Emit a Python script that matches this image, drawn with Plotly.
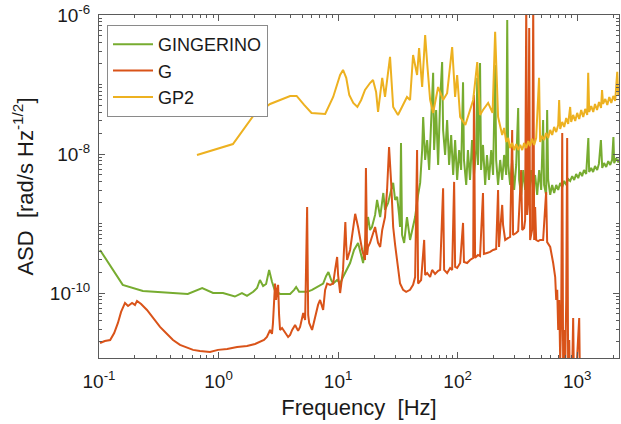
import plotly.graph_objects as go

# ---------------- data ----------------
gingerino_freq = [
    0.102, 0.158, 0.233, 0.553, 0.73, 0.90, 1.09, 1.37, 1.57, 1.73,
    1.95, 2.10, 2.22, 2.36, 2.50, 2.65, 2.80, 2.97, 3.27, 3.67,
    3.97, 4.29, 4.46, 4.72, 5.11, 5.51, 6.06, 6.67, 7.50, 7.95,
    8.3, 8.76, 9.10, 9.82, 10.4, 11.0, 11.7, 12.6, 13.6, 14.7,
    15.6, 16.2, 17.1, 17.8, 18.5, 19.2, 20.4, 21.2, 22.5, 23.9,
    24.7, 26.2, 27.8, 28.9, 30.0, 31.2, 32.4, 33.0, 33.6, 34.3,
    35.7, 37.7, 40.0, 42.4, 44.1, 46.7, 48.6, 50.5, 51.5, 53.5,
    55.6, 57.8, 60.1, 62.4, 63.6, 66.1, 68.7, 71.4, 74.2, 75.6,
    78.6, 81.7, 84.9, 88.3, 91.8, 95.3, 99.1, 103, 107, 111,
    113, 118, 122, 127, 132, 137, 143, 146, 148, 154,
    157, 163, 170, 176, 183, 191, 198, 206, 210, 218,
    227, 236, 245, 255, 260, 265, 275, 286, 297, 309,
    321, 327, 340, 354, 367, 382, 397, 412, 429, 445,
    463, 481, 500, 519, 529, 550, 561, 572, 595, 618,
    642, 668, 694, 721, 750, 779, 810, 841, 874, 909,
    944, 981, 1020, 1060, 1100, 1140, 1190, 1240, 1260, 1310,
    1360, 1410, 1470, 1520, 1580, 1620, 1680, 1750, 1820, 1890,
    1960, 2010, 2040, 2120, 2210, 2290,
]
gingerino_asd = [
    4.16e-10, 1.31e-10, 1.07e-10, 9.7e-11, 1.18e-10, 1.0e-10, 1.0e-10, 8.9e-11, 1.0e-10, 9.1e-11,
    1.04e-10, 1.18e-10, 1.54e-10, 1.26e-10, 1.35e-10, 2.15e-10, 1.45e-10, 1.07e-10, 9.7e-11, 9.7e-11,
    9.7e-11, 1.11e-10, 1.22e-10, 1.04e-10, 1.04e-10, 1.04e-10, 1.11e-10, 1.22e-10, 1.37e-10, 1.76e-10,
    2.0e-10, 1.54e-10, 1.37e-10, 1.54e-10, 1.37e-10, 1.7e-10, 2.15e-10, 2.7e-10, 4.16e-10, 5.25e-10,
    3.53e-10, 2.7e-10, 6.84e-10, 1.24e-9, 8.07e-10, 8.9e-10, 1.33e-9, 2.18e-9, 1.24e-9, 2.75e-9,
    1.57e-9, 1.97e-9, 3.04e-9, 3.84e-9, 2.18e-9, 2.42e-9, 1.33e-9, 8.9e-10, 1.44e-8, 6.84e-10,
    5.25e-10, 1.24e-9, 5.80e-10, 9.53e-10, 1.24e-9, 2.58e-9, 3.84e-9, 1.14e-8, 3.41e-8, 8.21e-9,
    1.59e-8, 5.89e-9, 2.62e-8, 1.47e-7, 1.14e-8, 4.30e-8, 6.96e-9, 5.99e-8, 2.1e-7, 2.22e-8,
    9.69e-9, 3.09e-8, 6.96e-9, 1.88e-8, 4.99e-9, 1.59e-8, 4.23e-9, 1.14e-8, 5.89e-9, 1.08e-7,
    8.21e-9, 3.59e-9, 1.14e-8, 4.23e-9, 1.59e-8, 4.99e-9, 1.14e-8, 1.25e-7, 6.96e-9, 2.04e-7,
    5.89e-9, 1.35e-8, 3.59e-9, 9.69e-9, 4.23e-9, 1.14e-8, 4.99e-9, 1.91e-7, 8.21e-9, 3.59e-9,
    8.21e-9, 4.23e-9, 9.69e-9, 4.99e-9, 8.47e-7, 6.96e-9, 3.59e-9, 8.21e-9, 3.04e-9, 6.96e-9,
    4.6e-8, 4.23e-9, 2.58e-9, 5.89e-9, 3.04e-9, 6.96e-9, 2.58e-9, 5.89e-9, 3.04e-9, 4.99e-9,
    2.58e-9, 5.89e-9, 3.04e-9, 3.09e-8, 3.59e-9, 2.58e-9, 4.30e-8, 4.23e-9, 2.58e-9, 3.59e-9,
    2.75e-9, 3.59e-9, 3.04e-9, 3.84e-9, 3.33e-9, 4.1e-9, 3.59e-9, 4.37e-9, 4.1e-9, 4.8e-9,
    4.23e-9, 5.15e-9, 4.5e-9, 5.5e-9, 4.8e-9, 5.89e-9, 5.15e-9, 1.70e-8, 5.5e-9, 6.3e-9,
    5.5e-9, 6.7e-9, 5.89e-9, 7.2e-9, 1.59e-8, 6.3e-9, 7.4e-9, 6.5e-9, 7.9e-9, 6.96e-9,
    8.21e-9, 1.76e-8, 7.4e-9, 8.7e-9, 7.6e-9, 8.9e-9,
]

g_freq = [
    0.102, 0.112, 0.124, 0.134, 0.144, 0.153, 0.165, 0.175, 0.189, 0.200,
    0.208, 0.225, 0.252, 0.283, 0.324, 0.364, 0.416, 0.476, 0.545, 0.612,
    0.699, 0.848, 0.990, 1.18, 1.43, 1.73, 2.02, 2.22, 2.40, 2.54,
    2.70, 2.80, 2.85, 2.97, 3.03, 3.09, 3.15, 3.21, 3.27, 3.40,
    3.60, 3.82, 3.97, 4.13, 4.37, 4.63, 4.81, 5.11, 5.30, 5.51,
    5.62, 5.73, 6.06, 6.42, 6.80, 7.07, 7.50, 7.79, 8.10, 8.58,
    9.10, 9.44, 9.82, 10.0, 10.4, 11.0, 11.5, 11.7, 11.9, 12.6,
    13.4, 13.9, 14.7, 15.3, 15.9, 16.8, 17.1, 17.5, 17.8, 18.5,
    19.2, 20.4, 21.6, 22.5, 23.4, 24.7, 25.7, 26.7, 27.8, 28.9,
    30.0, 31.2, 33.0, 35.0, 37.1, 40.0, 42.4, 44.1, 45.8, 46.7,
    49.5, 52.5, 53.5, 55.6, 58.9, 61.2, 64.8, 68.7, 71.4, 75.6,
    77.1, 81.7, 86.6, 90.0, 93.5, 95.3, 99.1, 105, 111, 113,
    120, 127, 135, 137, 140, 148, 154, 163, 166, 176,
    187, 198, 210, 218, 222, 227, 236, 240, 250, 265,
    275, 286, 291, 309, 321, 340, 347, 360, 367, 375,
    382, 390, 397, 404, 420, 429, 437, 445, 454, 472,
    490, 519, 550, 561, 595, 630, 655, 668, 681, 694,
    707, 721, 735, 750, 764, 779, 794, 810, 825, 841,
    858, 874, 909, 926, 944, 981, 1040, 1060, 1170, 1560,
    2290,
]
g_asd = [
    1.91e-11, 2.04e-11, 2.11e-11, 2.66e-11, 3.71e-11, 5.34e-11, 7.2e-11, 6.5e-11, 7.2e-11, 6.74e-11,
    7.7e-11, 6.96e-11, 5.71e-11, 4.38e-11, 3.25e-11, 2.66e-11, 2.11e-11, 1.79e-11, 1.62e-11, 1.52e-11,
    1.47e-11, 1.42e-11, 1.52e-11, 1.57e-11, 1.67e-11, 1.73e-11, 1.85e-11, 1.97e-11, 2.11e-11, 2.33e-11,
    2.94e-11, 2.58e-11, 3.59e-11, 1.37e-10, 7.95e-11, 1.11e-10, 1.31e-10, 4.84e-11, 2.94e-11, 3.14e-11,
    2.66e-11, 2.33e-11, 2.49e-11, 2.94e-11, 3.47e-11, 2.85e-11, 3.25e-11, 5.17e-11, 4.10e-11, 1.73e-9,
    4.84e-11, 3.71e-11, 2.94e-11, 4.38e-11, 6.74e-11, 7.95e-11, 5.71e-11, 1.11e-10, 1.37e-10, 1.31e-10,
    1.37e-10, 2.15e-10, 3.3e-10, 1.82e-10, 1.0e-10, 2.15e-10, 1.05e-9, 4.91e-10, 2.99e-10, 4.16e-10,
    8.07e-10, 1.38e-9, 8.9e-10, 5.80e-10, 4.16e-10, 2.99e-10, 6.3e-9, 3.53e-10, 4.6e-10, 5.25e-10,
    6.4e-10, 8.9e-10, 5.25e-10, 4.6e-10, 8.07e-10, 1.24e-9, 3.04e-9, 1.26e-8, 3.84e-9, 8.9e-10,
    4.91e-10, 2.99e-10, 1.37e-10, 1.11e-10, 1.04e-10, 1.11e-10, 1.31e-10, 1.7e-10, 1.14e-8, 1.37e-10,
    1.54e-10, 5.80e-10, 1.82e-10, 1.94e-10, 1.7e-10, 2.15e-10, 1.88e-10, 2.08e-10, 2.15e-10, 3.22e-9,
    2.15e-10, 1.94e-10, 2.29e-10, 2.15e-10, 3.97e-9, 2.37e-10, 2.29e-10, 2.7e-10, 1.02e-9, 2.8e-10,
    2.7e-10, 2.99e-10, 3.2e-10, 7.07e-8, 3.2e-10, 3.53e-10, 3.4e-10, 2.75e-9, 3.65e-10, 3.77e-10,
    3.9e-10, 4.16e-10, 4.3e-10, 3.04e-9, 4.6e-10, 8.07e-10, 1.85e-9, 9.53e-10, 5.80e-10, 6.2e-10,
    6.4e-10, 2.22e-8, 6.84e-10, 7.3e-10, 7.8e-10, 5.89e-9, 8.07e-10, 8.6e-10, 1.12e-9, 1.39e-6,
    1.33e-9, 2.18e-9, 6.5e-7, 5.80e-10, 8.07e-10, 1.39e-6, 5.80e-10, 1.73e-9, 5.80e-10, 5.6e-10,
    5.80e-10, 5.80e-10, 2.84e-9, 5.4e-10, 4.6e-10, 2.7e-10, 1.7e-10, 7.95e-11, 1.11e-10, 2.94e-11,
    7.95e-11, 1.09e-11, 4.10e-11, 2.01e-8, 5.6e-12, 2.94e-11, 7.8e-12, 7.95e-11, 1.70e-8, 5.6e-12,
    2.11e-11, 2.9e-12, 7.8e-12, 4.38e-11, 2.9e-12, 6.6e-12, 4.38e-11, 2.9e-12, 1.07e-12, 7.7e-13,
    5.5e-13,
]

gp2_freq = [
    0.66, 1.32, 1.95, 2.70, 3.97, 4.5, 5.2, 6.0, 7.8, 9.1,
    10.4, 11.0, 11.7, 12.4, 13.4, 14.5, 15.6, 16.8, 18.5, 19.6,
    20.8, 21.6, 23.4, 24.7, 27.2, 28.9, 31.7, 34.3, 37.7, 40.0,
    42.4, 45.8, 47.6, 50.5, 53.5, 55.6, 58.9, 62.4, 68.7, 75.6,
    81.7, 90.0, 95.3, 99.1, 105, 116, 127, 135, 146, 154,
    163, 180, 196, 206, 218, 227, 236, 245, 255, 265,
    275, 286, 297, 309, 321, 334, 347, 360, 375, 390,
    404, 420, 437, 454, 480, 490, 509, 529, 550, 572,
    595, 618, 642, 668, 694, 707, 721, 750, 779, 810,
    841, 874, 891, 926, 963, 1000, 1040, 1081, 1124, 1168,
    1214, 1237, 1261, 1311, 1363, 1410, 1466, 1524, 1584, 1615,
    1647, 1720, 1787, 1857, 1930, 2006, 2080, 2164, 2206, 2290,
]
gp2_asd = [
    9.69e-9, 1.39e-8, 3.53e-8, 5.25e-8, 6.84e-8, 6.84e-8, 5.08e-8, 3.9e-8, 3.77e-8, 6.62e-8,
    1.37e-7, 1.62e-7, 1.25e-7, 7.07e-8, 5.43e-8, 4.75e-8, 5.99e-8, 8.35e-8, 1.05e-7, 1.16e-7,
    7.8e-8, 4.03e-8, 1.25e-7, 6.62e-8, 2.5e-7, 4.75e-8, 3.65e-8, 4.75e-8, 6.62e-8, 5.99e-8,
    2.66e-7, 1.37e-7, 3.35e-7, 9.2e-8, 5.16e-7, 2.04e-7, 5.99e-8, 3.9e-8, 9.2e-8, 5.99e-8,
    7.5e-8, 3.46e-7, 6.62e-8, 1.37e-7, 3.41e-8, 2.62e-8, 4.30e-8, 5.99e-8, 2.1e-7, 3.65e-8,
    4.30e-8, 5.43e-8, 3.9e-8, 5.74e-7, 3.41e-8, 2.62e-8, 1.88e-8, 2.37e-8, 1.49e-8, 1.70e-8,
    1.22e-8, 1.44e-8, 1.14e-8, 1.39e-8, 1.14e-8, 1.35e-8, 1.14e-8, 1.44e-8, 1.22e-8, 1.54e-8,
    1.3e-8, 1.65e-8, 1.35e-8, 1.70e-8, 1.25e-7, 1.49e-8, 1.82e-8, 1.59e-8, 2.01e-8, 1.70e-8,
    2.22e-8, 1.88e-8, 2.45e-8, 2.07e-8, 2.62e-8, 5.99e-8, 2.29e-8, 2.89e-8, 2.45e-8, 3.3e-8,
    2.71e-8, 4.75e-8, 2.89e-8, 3.65e-8, 2.99e-8, 3.9e-8, 3.19e-8, 4.30e-8, 3.41e-8, 4.45e-8,
    3.65e-8, 1.47e-7, 4.03e-8, 4.91e-8, 4.03e-8, 5.25e-8, 4.30e-8, 5.61e-8, 4.6e-8, 8.35e-8,
    5.25e-8, 6.19e-8, 5.08e-8, 6.62e-8, 5.43e-8, 6.84e-8, 5.8e-8, 1.52e-7, 7.07e-8, 9.85e-8,
]

series_names = ["GINGERINO", "G", "GP2"]
series_colors = ["#77AC30", "#D95319", "#EDB120"]

x_tick_exponents = [-1, 0, 1, 2, 3]
y_tick_exponents = [-10, -8, -6]
y_unlabelled_decades = [-11, -9, -7]

# ---------------- figure ----------------
fig = go.Figure()
for name, fx, fy, col in zip(series_names,
                             [gingerino_freq, g_freq, gp2_freq],
                             [gingerino_asd, g_asd, gp2_asd],
                             series_colors):
    fig.add_trace(go.Scatter(x=fx, y=fy, mode="lines", name=name,
                             line=dict(color=col, width=2)))

axis_col = "#5a5a5a"
xminor = [m * 10.0 ** e for e in range(-1, 4) for m in range(2, 10)]
yminor = [m * 10.0 ** e for e in range(-11, -6) for m in range(2, 10)] + \
         [10.0 ** e for e in y_unlabelled_decades]

fig.update_layout(
    width=621, height=424,
    margin=dict(l=99, r=2, t=15, b=66),
    paper_bgcolor="white", plot_bgcolor="white",
    font=dict(family="Liberation Sans, Arial, sans-serif", color="#1a1a1a"),
    showlegend=True,
    legend=dict(x=0.0154, y=0.971, xanchor="left", yanchor="top",
                bgcolor="white", bordercolor="#8a8a8a", borderwidth=1,
                font=dict(size=18, color="#1a1a1a"), itemwidth=40,
                tracegroupgap=0),
)
fig.update_xaxes(
    type="log", range=[-1, 3.35],
    showgrid=False, zeroline=False,
    showline=True, linecolor=axis_col, linewidth=1, mirror="ticks",
    ticks="inside", ticklen=6, tickcolor=axis_col,
    tickvals=[10.0 ** e for e in x_tick_exponents],
    ticktext=["10<sup>%d</sup>" % e for e in x_tick_exponents],
    tickfont=dict(size=19, color="#1a1a1a"),
    ticklabelstandoff=6,
    minor=dict(ticks="inside", ticklen=3, tickcolor=axis_col,
               tickmode="array", tickvals=xminor, showgrid=False),
    title=dict(text="Frequency\u00a0\u00a0[Hz]", font=dict(size=22, color="#1a1a1a"),
               standoff=8),
    automargin=False,
)
fig.update_yaxes(
    type="log", range=[-10.935, -6],
    showgrid=False, zeroline=False,
    showline=True, linecolor=axis_col, linewidth=1, mirror="ticks",
    ticks="inside", ticklen=6, tickcolor=axis_col,
    tickvals=[10.0 ** e for e in y_tick_exponents],
    ticktext=["10<sup>%d</sup>" % e for e in y_tick_exponents],
    tickfont=dict(size=19, color="#1a1a1a"),
    ticklabelstandoff=4,
    minor=dict(ticks="inside", ticklen=3, tickcolor=axis_col,
               tickmode="array", tickvals=yminor, showgrid=False),
    title=dict(text="ASD\u00a0\u00a0[rad/s Hz<sup>-1/2</sup>]", font=dict(size=22, color="#1a1a1a"),
               standoff=10),
    automargin=False,
)

fig.write_html("out.html")
